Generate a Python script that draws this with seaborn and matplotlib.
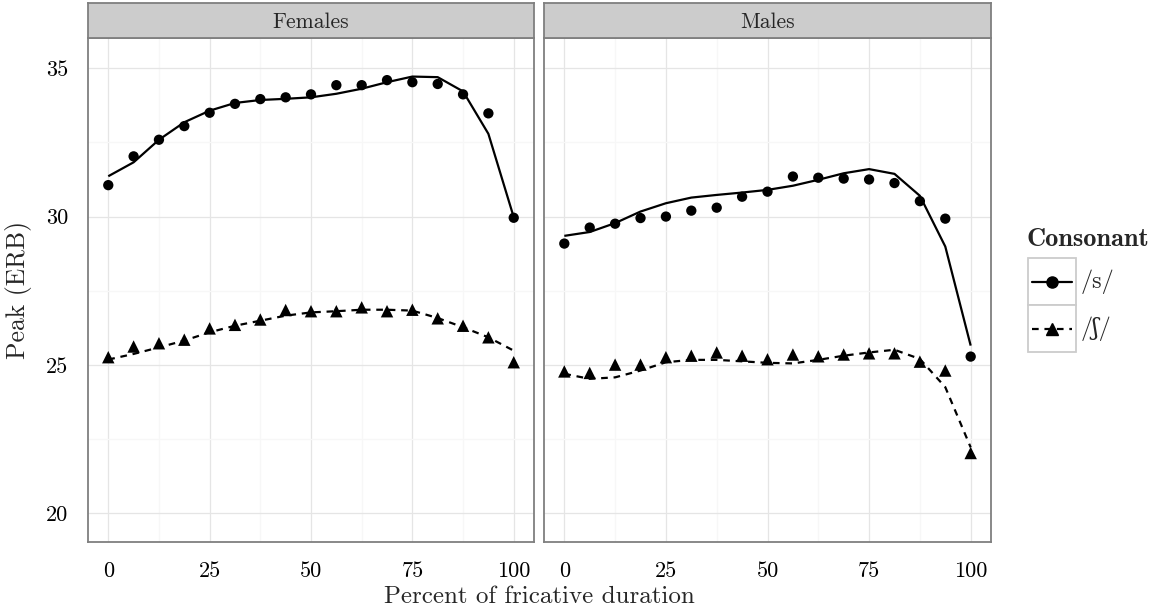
import numpy as np
import pandas as pd
import matplotlib
matplotlib.use("Agg")
import matplotlib.pyplot as plt
from matplotlib.lines import Line2D
from matplotlib.patches import Rectangle
import seaborn as sns

# ---------------- data ----------------
percent = [0, 6.25, 12.5, 18.75, 25, 31.25, 37.5, 43.75, 50, 56.25, 62.5,
           68.75, 75, 81.25, 87.5, 93.75, 100]
panels = ["Females", "Males"]
consonants = ["/s/", "/ʃ/"]

f_s_obs = [31.06, 32.03, 32.59, 33.05, 33.50, 33.80, 33.96, 34.02, 34.12, 34.43,
           34.43, 34.60, 34.53, 34.47, 34.12, 33.48, 29.96]
f_s_fit = [31.36, 31.83, 32.59, 33.18, 33.57, 33.83, 33.93, 33.97, 34.02, 34.14,
           34.31, 34.53, 34.72, 34.70, 34.22, 32.79, 29.98]
f_sh_obs = [25.26, 25.62, 25.73, 25.85, 26.23, 26.35, 26.53, 26.85, 26.81, 26.81,
            26.94, 26.81, 26.86, 26.57, 26.32, 25.93, 25.09]
f_sh_fit = [25.18, 25.37, 25.59, 25.82, 26.10, 26.32, 26.49, 26.66, 26.77, 26.81,
            26.86, 26.86, 26.83, 26.58, 26.27, 25.93, 25.48]
m_s_obs = [29.09, 29.63, 29.76, 29.95, 30.00, 30.20, 30.30, 30.67, 30.84, 31.35,
           31.31, 31.28, 31.25, 31.13, 30.52, 29.93, 25.28]
m_s_fit = [29.35, 29.48, 29.78, 30.17, 30.45, 30.64, 30.73, 30.81, 30.90, 31.04,
           31.24, 31.46, 31.60, 31.44, 30.70, 28.99, 25.65]
m_sh_obs = [24.78, 24.73, 25.01, 25.01, 25.26, 25.31, 25.42, 25.31, 25.19, 25.35,
            25.29, 25.35, 25.39, 25.39, 25.11, 24.81, 22.03]
m_sh_fit = [24.70, 24.53, 24.58, 24.81, 25.09, 25.17, 25.17, 25.12, 25.07, 25.05,
            25.17, 25.31, 25.42, 25.51, 25.20, 24.25, 22.22]

x_ticks = [0, 25, 50, 75, 100]
y_ticks = [20, 25, 30, 35]
x_label = "Percent of fricative duration"
y_label = "Peak (ERB)"
legend_title = "Consonant"

rows = []
series = {
    ("Females", "/s/"): (f_s_obs, f_s_fit),
    ("Females", "/ʃ/"): (f_sh_obs, f_sh_fit),
    ("Males", "/s/"): (m_s_obs, m_s_fit),
    ("Males", "/ʃ/"): (m_sh_obs, m_sh_fit),
}
for (sex, cons), (obs, fit) in series.items():
    for xv, o, f in zip(percent, obs, fit):
        rows.append(dict(sex=sex, consonant=cons, percent=xv, peak=o, fit=f))
df = pd.DataFrame(rows)

# ---------------- style ----------------
sns.set_theme(style="white")
FONT = ["cmr10", "DejaVu Serif"]
plt.rcParams["font.family"] = FONT
plt.rcParams["axes.unicode_minus"] = False
plt.rcParams["mathtext.fontset"] = "cm"

W, H = 1172, 615
fig = plt.figure(figsize=(W / 100, H / 100), dpi=100)
fig.patch.set_facecolor("white")

def fx(px):
    return px / W

def fy(py):
    return 1 - py / H

panel_left = [88, 544]
panel_right = [534, 991]
p_top, p_bot = 38, 542
strip_top = 3

markers = {"/s/": "o", "/ʃ/": "^"}
dashes = {"/s/": (1, 0), "/ʃ/": (3, 2.6)}
msize = {"/s/": 55, "/ʃ/": 80}

TICKCOL = "#333333"
for i, sex in enumerate(panels):
    l, r = panel_left[i], panel_right[i]
    ax = fig.add_axes([fx(l), fy(p_bot), (r - l) / W, (p_bot - p_top) / H])
    sub = df[df["sex"] == sex]
    sns.lineplot(data=sub, x="percent", y="fit", style="consonant",
                 style_order=consonants, dashes=dashes, color="black",
                 linewidth=1.6, legend=False, ax=ax, zorder=3)
    for cons in consonants:
        s2 = sub[sub["consonant"] == cons]
        sns.scatterplot(data=s2, x="percent", y="peak", marker=markers[cons],
                        s=msize[cons], color="black", edgecolor="none",
                        legend=False, ax=ax, zorder=4)
    ax.set_xlim(-5, 105)
    ax.set_ylim(19.03, 36.02)
    ax.set_xticks(x_ticks)
    ax.set_yticks(y_ticks)
    ax.set_xticks([12.5, 37.5, 62.5, 87.5], minor=True)
    ax.set_yticks([22.5, 27.5, 32.5], minor=True)
    ax.grid(True, which="major", color="#E5E5E5", linewidth=0.9, zorder=0)
    ax.grid(True, which="minor", color="#F7F7F7", linewidth=0.9, zorder=0)
    ax.set_axisbelow(True)
    for sp in ax.spines.values():
        sp.set_color("#7F7F7F")
        sp.set_linewidth(1.3)
    ax.tick_params(axis="both", which="major", direction="out", length=8,
                   width=1.6, color=TICKCOL, labelsize=16, labelcolor="black",
                   pad=6)
    ax.tick_params(axis="both", which="minor", length=0)
    ax.set_xlabel("")
    ax.set_ylabel("")
    if i == 1:
        ax.tick_params(axis="y", labelleft=False, length=0)
    # strip
    sax = fig.add_axes([fx(l), fy(p_top), (r - l) / W, (p_top - strip_top) / H])
    sax.set_facecolor("#CCCCCC")
    sax.set_xticks([])
    sax.set_yticks([])
    for sp in sax.spines.values():
        sp.set_color("#7F7F7F")
        sp.set_linewidth(1.3)
    sax.text(0.5, 0.45, sex, ha="center", va="center", fontsize=15.5,
             transform=sax.transAxes, family=FONT)

fig.text(fx(539.5), fy(597), x_label, ha="center", va="center", fontsize=18,
         family=FONT)
fig.text(fx(19), fy(290), y_label, ha="center", va="center", fontsize=18.5,
         rotation=90, family=FONT)

# ---------------- legend ----------------
fig.text(fx(1027), fy(240), legend_title, ha="left", va="center",
         fontsize=19, family=["cmb10", "DejaVu Serif"])
key_l, key_r = 1028, 1076
key_rows = [(258, 305), (305, 352)]
for cons, (t, b) in zip(consonants, key_rows):
    rect = Rectangle((fx(key_l), fy(b)), (key_r - key_l) / W, (b - t) / H,
                     transform=fig.transFigure, facecolor="white",
                     edgecolor="#CCCCCC", linewidth=1.3)
    fig.add_artist(rect)
    yc = fy((t + b) / 2)
    ln = Line2D([fx(key_l + 4), fx(key_r - 4)], [yc, yc], transform=fig.transFigure,
                color="black", linewidth=1.6,
                linestyle="-" if cons == "/s/" else (0, (3, 2.6)))
    fig.add_artist(ln)
    mk = Line2D([fx((key_l + key_r) / 2)], [yc], transform=fig.transFigure,
                marker=markers[cons], markersize=8 if cons == "/s/" else 9,
                color="black", linestyle="none")
    fig.add_artist(mk)
    fig.text(fx(1081), yc, cons, ha="left", va="center", fontsize=17.5,
             family=FONT)

fig.savefig("out.png", dpi=100, facecolor="white")
